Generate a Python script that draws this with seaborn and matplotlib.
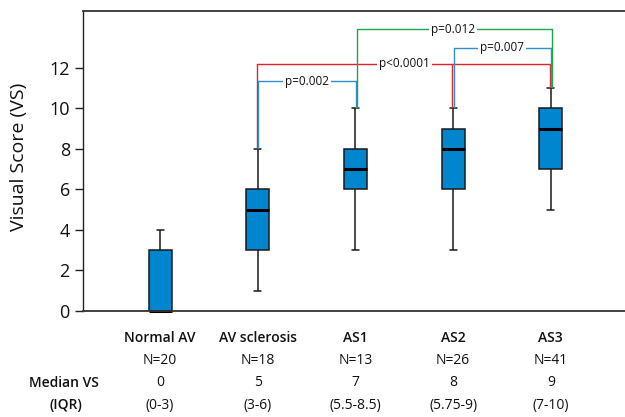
import numpy as np
import pandas as pd
import seaborn as sns
import matplotlib.pyplot as plt
from matplotlib.transforms import blended_transform_factory

# ---- data ----
groups = ["Normal AV", "AV sclerosis", "AS1", "AS2", "AS3"]
whisker_low = [0, 1, 3, 3, 5]
q1 = [0, 3, 6, 6, 7]
median = [0, 5, 7, 8, 9]
q3 = [3, 6, 8, 9, 10]
whisker_high = [4, 8, 10, 10, 11]
n_labels = ["N=20", "N=18", "N=13", "N=26", "N=41"]
median_labels = ["0", "5", "7", "8", "9"]
iqr_labels = ["(0-3)", "(3-6)", "(5.5-8.5)", "(5.75-9)", "(7-10)"]
y_ticks = [0, 2, 4, 6, 8, 10, 12]

# significance brackets: legs (group indices), bracket height, label, colour
bracket_legs = [[1, 3, 4], [1, 2], [3, 4], [2, 4]]
bracket_y = [12.2, 11.35, 13.0, 13.9]
bracket_labels = ["p<0.0001", "p=0.002", "p=0.007", "p=0.012"]
bracket_colors = ["#E8202A", "#2E8FD3", "#2E8FD3", "#1BA84A"]
bracket_dx = [-0.008, 0.004, 0.004, 0.014]

# build a small frame whose five-number summaries equal the values above
rows = []
for g, a, b, c, d, e in zip(groups, whisker_low, q1, median, q3, whisker_high):
    for v in (a, b, c, d, e):
        rows.append({"group": g, "value": v})
df = pd.DataFrame(rows)

sns.set_theme(style="white")
plt.rcParams["font.family"] = ["Open Sans", "DejaVu Sans"]

fig = plt.figure(figsize=(6.25, 4.17), dpi=100)
ax = fig.add_axes([83 / 625, 1 - 311 / 417, 1 - 83 / 625, (311 - 11) / 417])

sns.boxplot(
    data=df, x="group", y="value", order=groups, ax=ax,
    whis=(0, 100), width=0.235, color="#0086CF", saturation=1,
    linecolor="#1a1a1a", linewidth=1.1, fliersize=0,
    medianprops=dict(linewidth=2.2, color="black"),
    capwidths=0.07,
)
for ln in ax.lines:
    ln.set_clip_on(False)

ax.set_xlim(-0.79, 4.76)
ax.set_ylim(0, 14.81)
ax.set_yticks(y_ticks)
ax.set_yticklabels([str(t) for t in y_ticks], fontsize=13, fontweight="medium", color="#111111")
ax.tick_params(axis="y", which="both", left=True, length=6, width=1, pad=3.5, color="#222")
ax.tick_params(axis="x", bottom=False, labelbottom=False)
ax.set_xlabel("")
ax.set_ylabel("Visual Score (VS)", fontsize=14, fontweight="medium", color="#111111")
ax.yaxis.set_label_coords(-0.101, 0.515)

for s in ["top", "bottom"]:
    ax.spines[s].set_visible(True)
    ax.spines[s].set_color("#333333")
    ax.spines[s].set_linewidth(1.3)
ax.spines["left"].set_color("#222222")
ax.spines["left"].set_linewidth(1.0)
ax.spines["right"].set_visible(False)

# brackets
for legs, y, lab, col, dx in zip(bracket_legs, bracket_y, bracket_labels, bracket_colors, bracket_dx):
    xs = [l + dx for l in legs]
    ax.plot([xs[0], xs[-1]], [y, y], color=col, lw=1.0, clip_on=False, zorder=3)
    for l, x in zip(legs, xs):
        ax.plot([x, x], [y, whisker_high[l] + 0.05], color=col, lw=1.0, clip_on=False, zorder=3)
    xm = (legs[0] + legs[-1]) / 2
    ax.text(xm, y, lab, ha="center", va="center", fontsize=8.5, color="#111111", zorder=4,
            bbox=dict(facecolor="white", edgecolor="none", pad=1.5))

# table below the axis
tr = blended_transform_factory(ax.transData, fig.transFigure)
row_y = [1 - 338 / 417, 1 - 361 / 417, 1 - 383 / 417, 1 - 405 / 417]
for i, g in enumerate(groups):
    ax.text(i, row_y[0], g, transform=tr, ha="center", va="center", fontsize=10, fontweight="semibold", color="#111111")
    ax.text(i, row_y[1], n_labels[i], transform=tr, ha="center", va="center", fontsize=10, color="#111111")
    ax.text(i, row_y[2], median_labels[i], transform=tr, ha="center", va="center", fontsize=10, color="#111111")
    ax.text(i, row_y[3], iqr_labels[i], transform=tr, ha="center", va="center", fontsize=10, color="#111111")
fig.text(64 / 625, row_y[2], "Median VS", ha="center", va="center", fontsize=10, fontweight="semibold", color="#111111")
fig.text(66 / 625, row_y[3], "(IQR)", ha="center", va="center", fontsize=10, fontweight="semibold", color="#111111")

fig.savefig("out.png", dpi=100)
